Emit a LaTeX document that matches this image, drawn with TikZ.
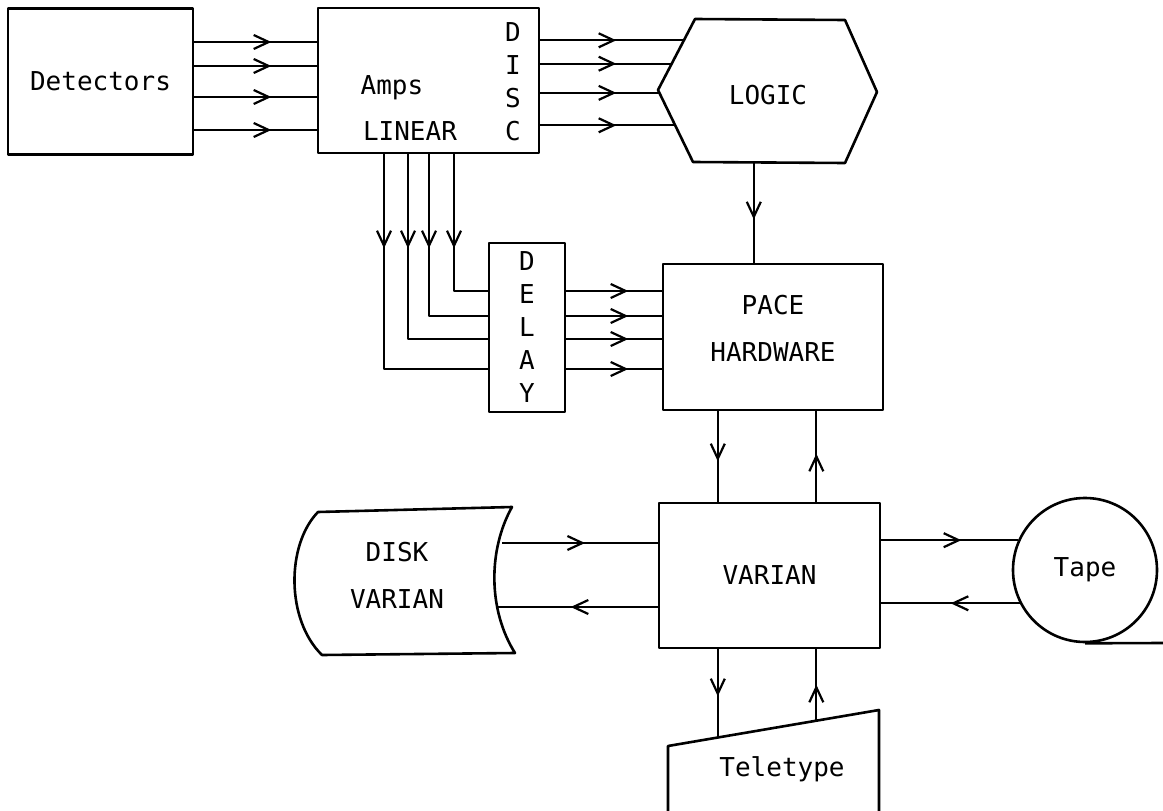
\documentclass[tikz,border=0pt]{standalone}
\usepackage{fontspec}
\newfontfamily\typewr{DejaVu Sans Mono}
\usetikzlibrary{arrows.meta,decorations.markings,calc}

\begin{document}
\begin{tikzpicture}[line join=round,
    box/.style={draw, line width=2.6pt, inner sep=0pt},
    lbl/.style={font=\typewr\fontsize{26}{33}\selectfont, align=center, inner sep=0pt},
    outline/.style={draw, line width=2.6pt},
    flow/.style={draw, line width=2.2pt, decoration={markings, mark=at position #1 with {\arrow{Straight Barb[length=15pt,width=14pt]}}}, postaction={decorate}}]

    \path[fill=white] (0pt,0pt) rectangle (1163pt,-811pt);
    \useasboundingbox (0pt,0pt) rectangle (1163pt,-811pt);

    \node at (100.5pt, -81.5pt) (det) [box, lbl, minimum width=185pt, minimum height=146pt] {Detectors};
    \node at (428.5pt, -80.5pt) (amps) [box, minimum width=221pt, minimum height=145pt] {};
    \node at (392pt, -94pt) (ampstxt) [lbl, anchor=base] {Amps};
    \node at (410pt, -140pt) (lintxt) [lbl, anchor=base] {LINEAR};
    \node at (513pt, -81.5pt) (disctxt) [lbl] {D\\I\\S\\C};
    \node at (527pt, -327.5pt) (delay) [box, lbl, minimum width=76pt, minimum height=169pt] {D\\E\\L\\A\\Y};
    \node at (773pt, -337pt) (pace) [box, minimum width=220pt, minimum height=146pt] {};
    \node at (773pt, -328pt) (pacetxt) [lbl] {PACE\\[14pt]HARDWARE};
    \node at (769.5pt, -575.5pt) (varian) [box, lbl, minimum width=221pt, minimum height=145pt] {VARIAN};
    \node at (1085pt, -570pt) (tape) [box, lbl, circle, minimum size=144pt] {Tape};
    \node at (397pt, -575pt) (disk) [lbl] {DISK\\[14pt]VARIAN};
    \node at (768pt, -95pt) (logic) [lbl] {LOGIC};
    \node at (782pt, -769pt) (tty) [lbl] {Teletype};

    \coordinate (lg-tl) at (695pt, -19pt);
    \coordinate (lg-tr) at (845pt, -20pt);
    \coordinate (lg-r) at (877pt, -92pt);
    \coordinate (lg-br) at (845pt, -163pt);
    \coordinate (lg-bl) at (693pt, -162pt);
    \coordinate (lg-l) at (658pt, -90pt);
    \coordinate (lg-in1) at ($(lg-tl)!0.30!(lg-l)$);
    \coordinate (lg-in2) at ($(lg-tl)!0.63!(lg-l)$);
    \coordinate (lg-in3) at ($(lg-l)!0.04!(lg-bl)$);
    \coordinate (lg-in4) at ($(lg-l)!0.49!(lg-bl)$);
    \coordinate (lg-out) at ($(lg-bl)!0.40!(lg-br)$);

    \coordinate (tt-tl) at (668pt, -746pt);
    \coordinate (tt-tr) at (879pt, -710pt);
    \coordinate (tt-in) at ($(tt-tl)!0.236!(tt-tr)$);
    \coordinate (tt-out) at ($(tt-tl)!0.703!(tt-tr)$);

    \coordinate (disk-in) at (502pt, -543pt);
    \coordinate (disk-out) at (497pt, -607pt);
    \coordinate (tape-end) at (1163pt, -643pt);

    \path[outline] (lg-tl) -- (lg-tr) -- (lg-r) -- (lg-br) -- (lg-bl) -- (lg-l) -- cycle;
    \path[outline] (318pt,-512pt) -- (512pt,-507pt) .. controls (488pt,-550pt) and (488pt,-610pt) .. (515pt,-653pt)
        -- (322pt,-655pt) .. controls (286pt,-620pt) and (286pt,-545pt) .. cycle;
    \path[outline] (668pt,-811pt) -- (tt-tl) -- (tt-tr) -- (879pt,-811pt);
    \path[outline] (tape.south) -- (tape-end);

    \path[flow=77pt] ([yshift=39.5pt]det.east) -- ([yshift=39.5pt]det.east -| amps.west);
    \path[flow=77pt] ([yshift=15.5pt]det.east) -- ([yshift=15.5pt]det.east -| amps.west);
    \path[flow=77pt] ([yshift=-15.5pt]det.east) -- ([yshift=-15.5pt]det.east -| amps.west);
    \path[flow=77pt] ([yshift=-48.5pt]det.east) -- ([yshift=-48.5pt]det.east -| amps.west);

    \path[flow=76pt] (lg-in1 -| amps.east) -- (lg-in1);
    \path[flow=76pt] (lg-in2 -| amps.east) -- (lg-in2);
    \path[flow=76pt] (lg-in3 -| amps.east) -- (lg-in3);
    \path[flow=76pt] (lg-in4 -| amps.east) -- (lg-in4);

    \path[flow=94pt] ([xshift=25.5pt]amps.south) |- ([yshift=36.5pt]delay.west);
    \path[flow=94pt] ([xshift=0.5pt]amps.south) |- ([yshift=11.5pt]delay.west);
    \path[flow=94pt] ([xshift=-20.5pt]amps.south) |- ([yshift=-11.5pt]delay.west);
    \path[flow=94pt] ([xshift=-44.5pt]amps.south) |- ([yshift=-41.5pt]delay.west);

    \path[flow=62pt] ([yshift=36.5pt]delay.east) -- ([yshift=36.5pt]delay.east -| pace.west);
    \path[flow=62pt] ([yshift=11.5pt]delay.east) -- ([yshift=11.5pt]delay.east -| pace.west);
    \path[flow=62pt] ([yshift=-11.5pt]delay.east) -- ([yshift=-11.5pt]delay.east -| pace.west);
    \path[flow=62pt] ([yshift=-41.5pt]delay.east) -- ([yshift=-41.5pt]delay.east -| pace.west);

    \path[flow=57pt] (lg-out) -- (lg-out |- pace.north);
    \path[flow=50pt] (tt-in |- pace.south) -- (tt-in |- varian.north);
    \path[flow=48pt] (tt-out |- varian.north) -- (tt-out |- pace.south);

    \path[flow=83pt] (disk-in) -- (disk-in -| varian.west);
    \path[flow=87pt] (disk-out -| varian.west) -- (disk-out);
    \path[flow=80pt] (tape.156 -| varian.east) -- (tape.156);
    \path[flow=69pt] (tape.207) -- (tape.207 -| varian.east);

    \path[flow=47pt] (tt-in |- varian.south) -- (tt-in);
    \path[flow=36pt] (tt-out) -- (tt-out |- varian.south);

\end{tikzpicture}
\end{document}
